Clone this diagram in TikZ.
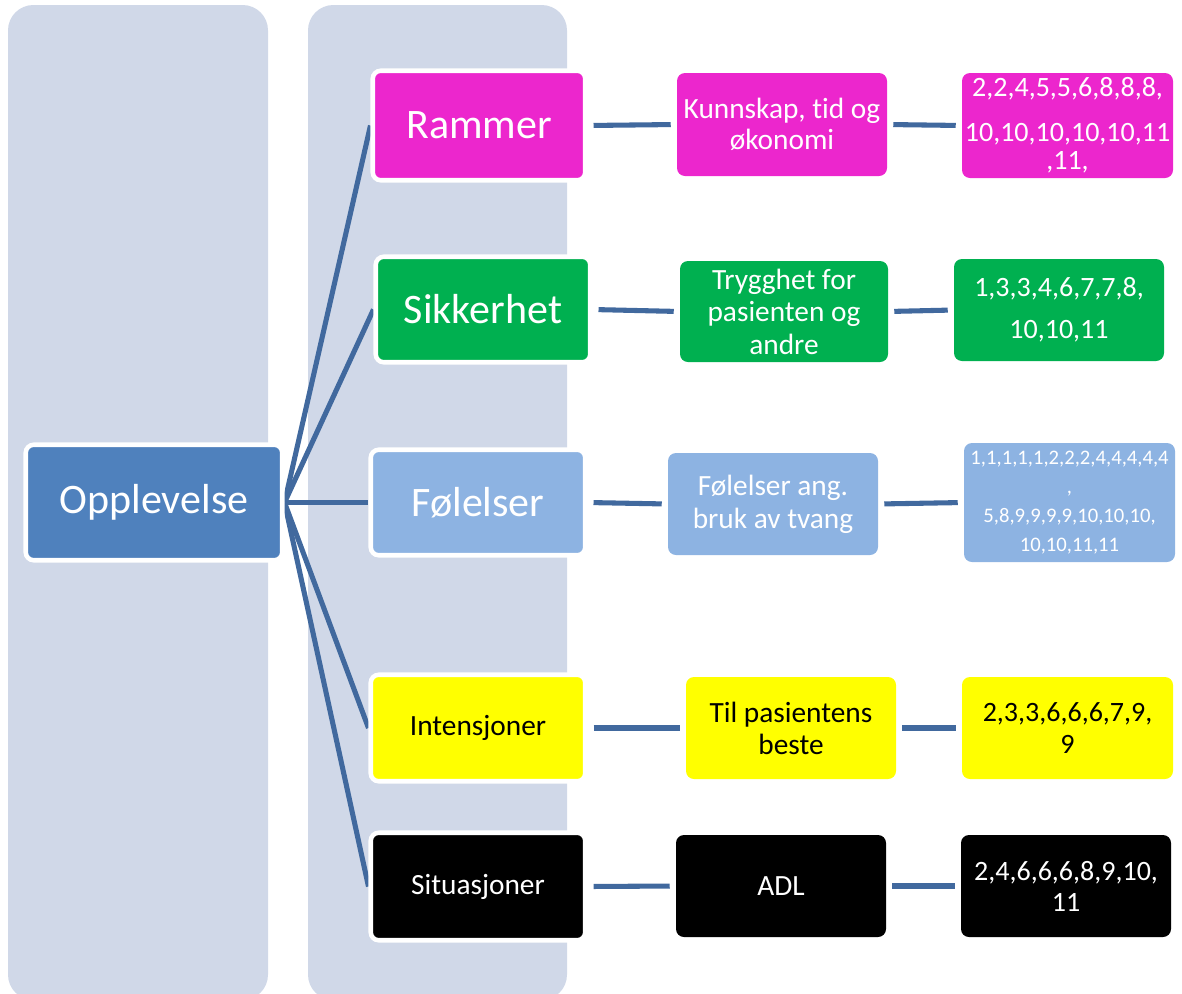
\documentclass[tikz,border=0pt]{standalone}
\usepackage{fontspec}
\setmainfont{Carlito}[Ligatures=NoCommon]
\pgfdeclarelayer{back}
\pgfdeclarelayer{mid}
\pgfsetlayers{back,mid,main}
\definecolor{colbg}{HTML}{D0D8E8}
\definecolor{oppc}{HTML}{4F81BD}
\definecolor{magc}{HTML}{EC26CD}
\definecolor{grnc}{HTML}{00B050}
\definecolor{lbc}{HTML}{8DB3E2}
\definecolor{yelc}{HTML}{FFFF00}
\definecolor{linec}{HTML}{41699E}
\tikzset{
  sz/.style 2 args={minimum width=#1*0.75pt, minimum height=#2*0.75pt},
  box/.style={rectangle, rounded corners=6pt, inner sep=0pt, align=center, text=white},
  wbox/.style={box, draw=white, line width=3.4pt},
  conn/.style={draw=linec, line width=3.8pt},
  hconn/.style={conn, shorten <=4.5pt, shorten >=4.5pt},
  big/.style={font=\fontsize{31.5}{38}\selectfont},
  med/.style={font=\fontsize{22}{24}\selectfont},
  column/.style={fill=colbg, rounded corners=19pt}
}
\begin{document}
\begin{tikzpicture}[x=0.75pt, y=-0.75pt]
\useasboundingbox (0,0) rectangle (1182,993);
\begin{pgfonlayer}{back}
  \clip (0,0) rectangle (1182,993);
  \fill[column] (8,5) rectangle (268,1000);
  \fill[column] (308,5) rectangle (567,1000);
\end{pgfonlayer}

% root
\node[wbox, fill=oppc, sz={256.5}{115.5}, big] (opp) at (154,502.5) {Opplevelse};

% level 1
\node[wbox, fill=magc, sz={212.5}{109.5}, big] (ram) at (479,125.5) {Rammer};
\node[wbox, fill=grnc, sz={214.5}{105.5}, big] (sik) at (483,309.5) {Sikkerhet};
\node[wbox, fill=lbc, sz={214.5}{105.5}, big] (fol) at (478,502.5) {Følelser};
\node[wbox, fill=yelc, text=black, sz={214.5}{106.5}, med] (int) at (478,728) {Intensjoner};
\node[wbox, fill=black, sz={214.5}{107.5}, med] (sit) at (478,886.5) {Situasjoner};

% level 2
\node[box, fill=magc, sz={210}{103}, font=\fontsize{22}{23.25}\selectfont] (kun) at (782,124.5) {Kunnskap, t\kern0pt id og\\økonomi};
\node[box, fill=grnc, sz={208}{101}, font=\fontsize{22}{24.4}\selectfont] (tryg) at (784,311.5) {Trygghet for\\pasienten og\\andre};
\node[box, fill=lbc, sz={210}{102}, font=\fontsize{22}{24.75}\selectfont] (fang) at (773,504) {Følelser ang.\\bruk av tvang};
\node[box, fill=yelc, text=black, sz={210}{102}, med] (til) at (791,728) {Til pasientens\\beste};
\node[box, fill=black, sz={210}{102}, med] (adl) at (781,886) {ADL};

% level 3
\node[box, fill=magc, sz={211}{105}, font=\fontsize{21}{21}\selectfont] (n1) at (1067.5,125.5) {2,2,4,5,5,6,8,8,8,\\[12.75pt]10,10,10,10,10,11\\,11,};
\node[box, fill=grnc, sz={210}{102}, font=\fontsize{21}{31.5}\selectfont] (n2) at (1059,310) {1,3,3,4,6,7,7,8,\\10,10,11};
\node[box, fill=lbc, sz={211}{119}, font=\fontsize{15.5}{21.75}\selectfont] (n3) at (1069.5,502.5) {1,1,1,1,1,2,2,2,4,4,4,4,4\\,\\5,8,9,9,9,9,10,10,10,\\10,10,11,11};
\node[box, fill=yelc, text=black, sz={211}{102}, font=\fontsize{21}{24}\selectfont] (n4) at (1067.5,728) {2,3,3,6,6,6,7,9,\\9};
\node[box, fill=black, sz={210}{102}, font=\fontsize{21}{23.25}\selectfont] (n5) at (1066,886) {2,4,6,6,6,8,9,10,\\11};

% connectors
\begin{pgfonlayer}{mid}
  \foreach \t in {ram,sik,fol,int,sit}
    \draw[conn] (opp.east) -- (\t.west);
\end{pgfonlayer}
\draw[hconn] (ram.east) -- (kun.west);
\draw[hconn] (kun.east) -- (n1.west);
\draw[hconn] (sik.east) -- (tryg.west);
\draw[hconn] (tryg.east) -- (n2.west);
\draw[hconn] (fol.east) -- (fang.west);
\draw[hconn] (fang.east) -- (n3.west);
\draw[hconn] (int.east) -- (til.west);
\draw[hconn] (til.east) -- (n4.west);
\draw[hconn] (sit.east) -- (adl.west);
\draw[hconn] (adl.east) -- (n5.west);
\end{tikzpicture}
\end{document}
